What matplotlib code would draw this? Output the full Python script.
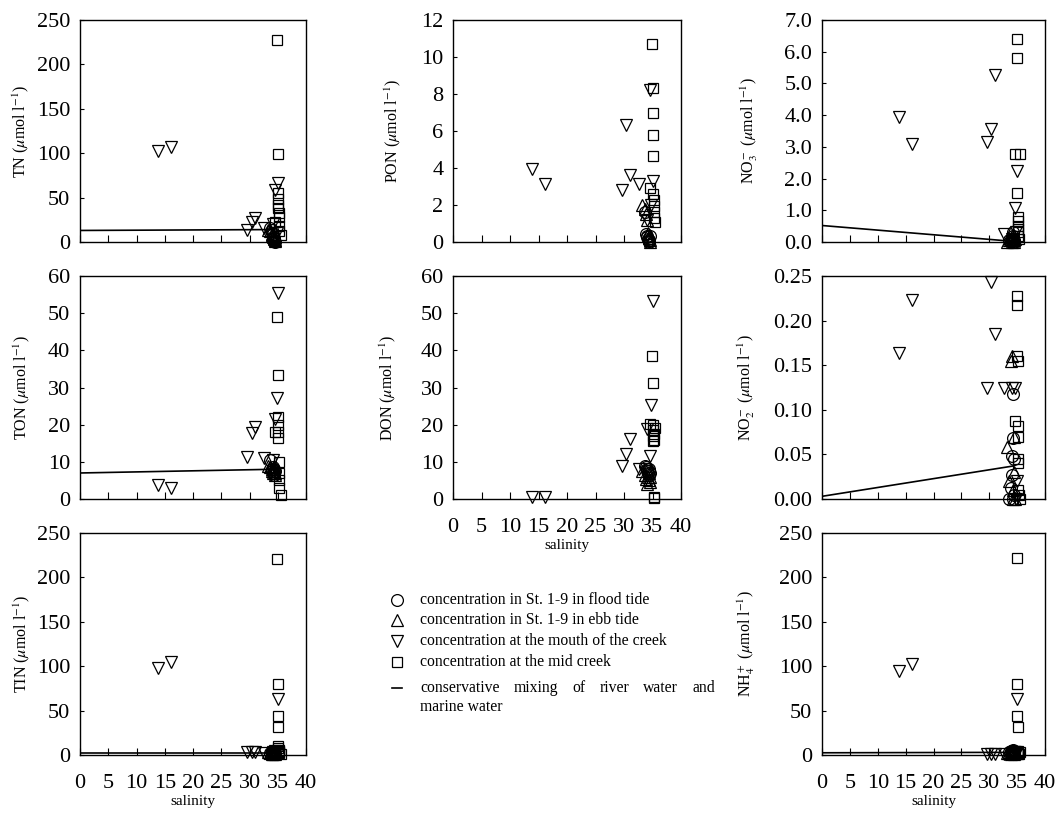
import numpy as np
import matplotlib
matplotlib.use('Agg')
import matplotlib.pyplot as plt

plt.rcParams['font.family'] = ['Liberation Serif', 'DejaVu Serif']
plt.rcParams['mathtext.fontset'] = 'stix'

# salinity of each sample group
flood_sal = [33.6, 33.9, 34.0, 34.1, 34.2, 34.3, 34.3, 34.4, 34.5]
ebb_sal = [33.2, 33.6, 33.9, 34.0, 34.2, 34.3, 34.4, 34.5, 34.6]
mouth_sal = [13.8, 16.1, 29.6, 30.4, 31.0, 32.6, 34.1, 34.6, 35.0, 34.8]
mid_sal = [34.6, 34.9, 35.0, 35.0, 35.1, 35.1, 35.1, 35.2, 35.2, 35.2, 35.3, 35.5]
mix_sal = [0, 34.3]

# TN
tn_flood = [16, 14, 10, 9, 6, 4, 2, 1, 0.5]
tn_ebb = [14, 12, 9, 8, 6, 4, 3, 2, 1]
tn_mouth = [102, 107, 14, 23, 27, 16, 20, 58, 66, 10]
tn_mid = [22, 227, 99, 55, 48, 42, 38, 33, 28, 18, 12, 8]
tn_mix = [13, 14]
# PON
pon_flood = [1.6, 0.45, 0.35, 0.25, 0.15, 0.1, 0.05, 0.0, 0.3]
pon_ebb = [2.0, 1.8, 1.5, 1.2, 0.5, 0.3, 0.2, 0.1, 0.0]
pon_mouth = [3.95, 3.15, 2.8, 6.3, 3.6, 3.15, 1.2, 8.2, 3.3, 2.0]
pon_mid = [2.9, 10.7, 8.35, 6.95, 5.8, 4.65, 2.6, 2.25, 1.95, 1.6, 1.3, 1.1]
# NO3
no3_flood = [0.05, 0.0, 0.02, 0.1, 0.0, 0.2, 0.3, 0.05, 0.0]
no3_ebb = [0.0, 0.05, 0.1, 0.0, 0.15, 0.25, 0.05, 0.0, 0.1]
no3_mouth = [3.95, 3.1, 3.15, 3.55, 5.27, 0.24, 0.1, 1.08, 2.25, 0.3]
no3_mid = [2.77, 6.4, 5.8, 1.54, 0.8, 0.65, 0.5, 0.4, 0.3, 0.2, 0.1, 2.77]
no3_mix = [0.52, 0.02]
# TON
ton_flood = [10.5, 8, 7.5, 7, 8.5, 7, 6.5, 8, 7.5]
ton_ebb = [9, 8.5, 8, 7.5, 7, 8, 9, 7, 6.5]
ton_mouth = [3.8, 2.9, 11.4, 17.7, 19.5, 11.0, 10.5, 21.6, 55.3, 27.3]
ton_mid = [18, 49, 33.4, 22, 20, 18, 16.5, 10, 7, 5, 3, 1]
ton_mix = [7, 8]
# DON
don_flood = [9.0, 8.5, 8, 7.5, 7, 6.5, 8, 7.5, 7]
don_ebb = [7.5, 6.5, 5.5, 4, 6, 7, 5, 6, 4.5]
don_mouth = [0.5, 0.5, 9.0, 12.1, 16.1, 8.0, 18.8, 11.5, 53.3, 25.3]
don_mid = [20.3, 38.5, 31.1, 18.5, 17, 15.5, 20, 16, 0.3, 0.5, 17.5, 19]
# NO2
no2_flood = [0.0, 0.012, 0.027, 0.048, 0.068, 0.118, 0.0, 0.005, 0.045]
no2_ebb = [0.058, 0.02, 0.155, 0.16, 0.0, 0.01, 0.07, 0.03, 0.0]
no2_mouth = [0.164, 0.223, 0.124, 0.243, 0.185, 0.124, 0.124, 0.125, 0.02, 0.0]
no2_mid = [0.088, 0.228, 0.218, 0.16, 0.155, 0.082, 0.07, 0.045, 0.04, 0.01, 0.005, 0.0]
no2_mix = [0.003, 0.037]
# TIN
tin_flood = [2, 3, 1, 2, 4, 1, 2, 3, 1]
tin_ebb = [3, 2, 1, 2, 1, 3, 2, 1, 2]
tin_mouth = [98, 105, 3, 3, 3, 2, 3, 4, 63, 2]
tin_mid = [5, 221, 80, 44, 32, 10, 8, 6, 4, 3, 2, 1]
tin_mix = [2.5, 2.5]
# NH4
nh4_flood = [3, 5, 4, 2, 6, 3, 1, 4, 2]
nh4_ebb = [2, 3, 1, 4, 2, 3, 5, 1, 2]
nh4_mouth = [95, 103, 1, 1, 1, 1.5, 2, 3, 63, 1]
nh4_mid = [4, 222, 80, 44, 32, 4, 3, 2, 1, 2, 1, 3]
nh4_mix = [2.5, 3]

W, H = 1064, 813
fig = plt.figure(figsize=(W / 100, H / 100), dpi=100)

col_left = [80, 453, 822]
col_w = [226, 228, 223]
row_top = [20, 276, 533]
row_h = [222, 223, 222]

mk = dict(mfc='none', mec='black', mew=0.9, ls='none', clip_on=False)

def panel(r, c, ylabel, ymax, ystep, fmt, flood, ebb, mouth, mid, mix, showx, labx):
    ax = fig.add_axes([col_left[c] / W, 1 - (row_top[r] + row_h[r]) / H,
                       col_w[c] / W, row_h[r] / H])
    ax.plot(mid_sal, mid, marker='s', ms=7.5, **mk)
    ax.plot(mouth_sal, mouth, marker='v', ms=8.5, **mk)
    ax.plot(ebb_sal, ebb, marker='^', ms=8.5, **mk)
    ax.plot(flood_sal, flood, marker='o', ms=8.5, **mk)
    if mix is not None:
        ax.plot(mix_sal, mix, color='black', lw=1.2)
    ax.set_xlim(0, 40)
    ax.set_ylim(0, ymax)
    ax.set_xticks(np.arange(0, 41, 5))
    yt = np.arange(0, ymax + ystep / 2, ystep)
    ax.set_yticks(yt)
    ax.set_yticklabels([fmt.format(v) for v in yt])
    ax.tick_params(axis='y', direction='in', length=3, width=0.8, labelsize=16, pad=7)
    ax.tick_params(axis='x', direction='in', length=5, width=0.8, labelsize=16, pad=14)
    if showx:
        ax.set_xlabel('salinity', fontsize=11, labelpad=1)
    else:
        ax.set_xticklabels([])
    ax.set_ylabel(ylabel, fontsize=11.5, va='center')
    ax.yaxis.set_label_coords(labx, 0.5)
    for s in ax.spines.values():
        s.set_linewidth(1.0)
    return ax

unit = r' ($\mu$mol l$^{-1}$)'
panel(0, 0, 'TN' + unit, 250, 50, '{:.0f}', tn_flood, tn_ebb, tn_mouth, tn_mid, tn_mix, False, -0.261)
panel(0, 1, 'PON' + unit, 12, 2, '{:.0f}', pon_flood, pon_ebb, pon_mouth, pon_mid, None, False, -0.265)
panel(0, 2, r'NO$_3^-$' + unit, 7, 1, '{:.1f}', no3_flood, no3_ebb, no3_mouth, no3_mid, no3_mix, False, -0.325)
panel(1, 0, 'TON' + unit, 60, 10, '{:.0f}', ton_flood, ton_ebb, ton_mouth, ton_mid, ton_mix, False, -0.259)
panel(1, 1, 'DON' + unit, 60, 10, '{:.0f}', don_flood, don_ebb, don_mouth, don_mid, None, True, -0.285)
panel(1, 2, r'NO$_2^-$' + unit, 0.25, 0.05, '{:.2f}', no2_flood, no2_ebb, no2_mouth, no2_mid, no2_mix, False, -0.341)
panel(2, 0, 'TIN' + unit, 250, 50, '{:.0f}', tin_flood, tin_ebb, tin_mouth, tin_mid, tin_mix, True, -0.258)
panel(2, 2, r'NH$_4^+$' + unit, 250, 50, '{:.0f}', nh4_flood, nh4_ebb, nh4_mouth, nh4_mid, nh4_mix, True, -0.338)

# legend drawn in figure pixel space
lax = fig.add_axes([0, 0, 1, 1])
lax.set_xlim(0, W)
lax.set_ylim(H, 0)
lax.axis('off')
lfs = 11.3
leg_items = [('o', 'concentration in St. 1-9 in flood tide', 600),
             ('^', 'concentration in St. 1-9 in ebb tide', 620),
             ('v', 'concentration at the mouth of the creek', 641),
             ('s', 'concentration at the mid creek', 662)]
for m, txt, y in leg_items:
    lax.plot([397], [y], marker=m, ms=7.5 if m == 's' else 8.5,
             mfc='none', mec='black', mew=0.9, ls='none')
    lax.text(420, y, txt, fontsize=lfs, va='center', ha='left')
lax.plot([392, 402], [688, 688], color='black', lw=1.2)

# justified first line of the last legend entry
words = ['conservative', 'mixing', 'of', 'river', 'water', 'and']
x0, x1 = 420, 715
renderer = fig.canvas.get_renderer()
tw = [lax.text(0, 0, w, fontsize=lfs) for w in words]
widths = [t.get_window_extent(renderer).width for t in tw]
for t in tw:
    t.remove()
gap = (x1 - x0 - sum(widths)) / (len(words) - 1)
x = x0
for w, wd in zip(words, widths):
    lax.text(x, 688, w, fontsize=lfs, va='center', ha='left')
    x += wd + gap
lax.text(420, 707, 'marine water', fontsize=lfs, va='center', ha='left')

fig.savefig('out.png', dpi=100)
